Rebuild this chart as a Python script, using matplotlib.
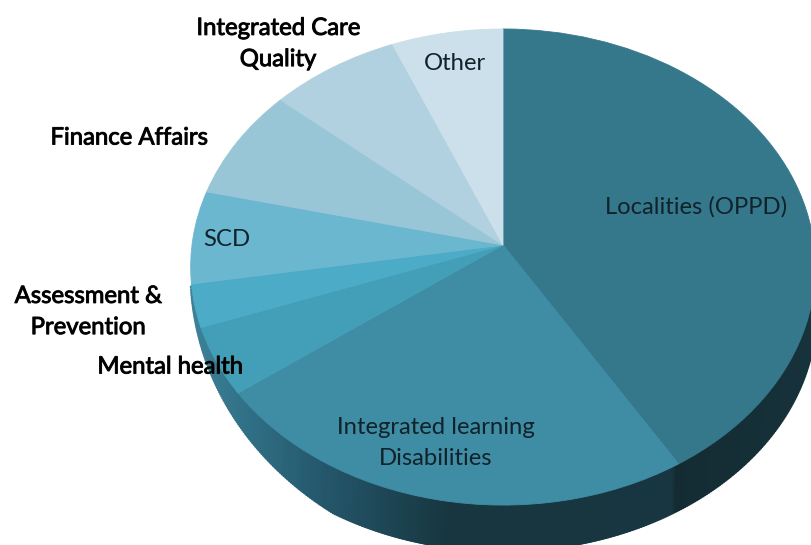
import numpy as np
import matplotlib
matplotlib.use('Agg')
import matplotlib.pyplot as plt
from matplotlib.collections import PolyCollection
from matplotlib.colors import LinearSegmentedColormap
from matplotlib.transforms import Transform
import matplotlib.patheffects as pe

plt.rcParams['font.family'] = ['Lato', 'DejaVu Sans']

labels = ['Localities (OPPD)', 'Integrated learning\nDisabilities', 'Mental health',
          'Assessment &\nPrevention', 'SCD', 'Finance Affairs',
          'Integrated Care\nQuality', 'Other']
values = [41.3, 23.6, 4.6, 2.9, 6.3, 7.6, 7.4, 6.3]
colors = ['#35788C', '#3F8CA5', '#439FB8', '#4CABC6', '#6CB7D0', '#98C6D7', '#B2D1E0', '#CBE0EA']

# unit pie -> tilted pie in image pixels
class Tilt(Transform):
    input_dims = 2
    output_dims = 2
    def __init__(self, cx=503, cy=245, a=311, b=236, p=0.0925):
        super().__init__()
        self.cx, self.cy, self.a, self.b, self.p = cx, cy, a, b, p
    def transform_non_affine(self, xy):
        xy = np.asarray(xy)
        w = 1 + self.p * xy[:, 1]
        return np.column_stack([self.cx + self.a * xy[:, 0] / w,
                                self.cy - self.b * xy[:, 1] / w])

tilt = Tilt()
depth = 46

fig = plt.figure(figsize=(8.11, 5.45), dpi=100)
ax = fig.add_axes([0, 0, 1, 1])

wedges, _ = ax.pie(values, colors=colors, startangle=90, counterclock=False, radius=1)
ax.set_aspect('auto')
ax.set_xlim(0, 811)
ax.set_ylim(545, 0)
ax.axis('off')
for w, c in zip(wedges, colors):
    w.set_transform(tilt + ax.transData)
    w.set_edgecolor(c)
    w.set_linewidth(0.6)
    w.set_zorder(3)

# side wall, as thin strips along the lower rim, tapered where it starts on the left
deg = np.linspace(190, 362, 400)
ang = np.radians(deg)
rim = tilt.transform(np.column_stack([np.cos(ang), np.sin(ang)]))
drop = depth * np.clip((deg - 190) / 50, 0, 1) ** 0.7
wall_cmap = LinearSegmentedColormap.from_list(
    'wall', [(0, '#3E8299'), (0.1, '#2F6F85'), (0.22, '#24566A'), (0.42, '#17363F'),
             (0.78, '#173641'), (0.781, '#142B32'), (1, '#16323B')])
quads, cols = [], []
for i in range(len(rim) - 1):
    p0, p1 = rim[i], rim[i + 1]
    quads.append([p0, p1, p1 + [1, drop[i + 1]], p0 + [-1, drop[i]]])
    cols.append(wall_cmap((p0[0] - 189) / (811 - 189)))
ax.add_collection(PolyCollection(quads, facecolors=cols, edgecolors=cols, linewidths=1.5, zorder=2))

halo = [pe.withStroke(linewidth=0.7, foreground='#111111')]
text_pos = [(696, 207, False), (436, 443, False), (170, 367, True), (88, 312, True),
            (227, 239, False), (129, 138, True), (278, 44, True), (455, 64, False)]
for lab, (x, y, bold) in zip(labels, text_pos):
    ax.text(x, y, lab, ha='center', va='center', fontsize=17.2, color='#10222A' if not bold else 'black',
            linespacing=1.6, zorder=5, path_effects=halo if bold else None)

fig.savefig('out.png', dpi=100)
